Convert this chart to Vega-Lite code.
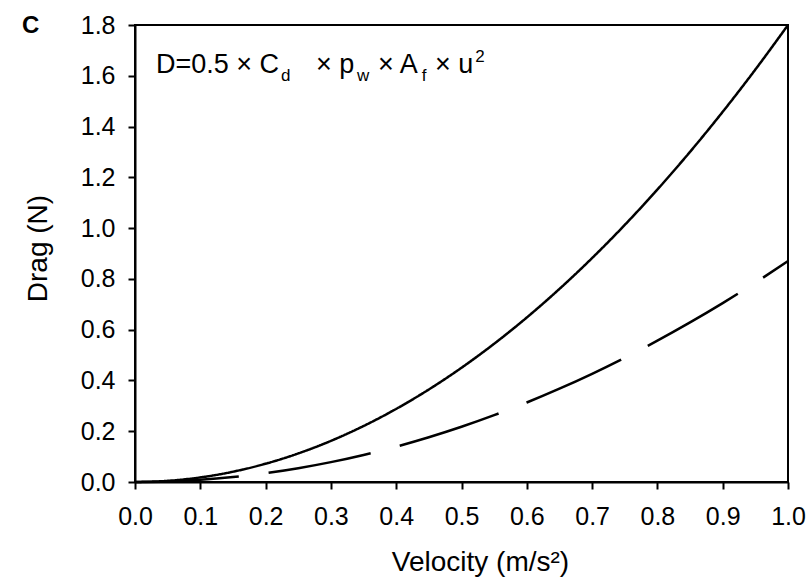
{
  "$schema": "https://vega.github.io/schema/vega-lite/v6.json",
  "width": 653,
  "height": 457,
  "autosize": {"type": "none"},
  "padding": {"left": 135, "top": 25, "right": 24, "bottom": 99},
  "background": "white",
  "config": {
    "font": "Liberation Sans",
    "view": {"stroke": "black", "strokeWidth": 2},
    "axis": {
      "labelFont": "Liberation Sans",
      "titleFont": "Liberation Sans",
      "labelFontSize": 25,
      "titleFontSize": 28,
      "titleFontWeight": "normal",
      "labelColor": "black",
      "titleColor": "black",
      "domainColor": "black",
      "domainWidth": 2,
      "tickColor": "black",
      "tickWidth": 2,
      "tickSize": 7,
      "grid": false,
      "labelFlush": false,
      "labelOverlap": false
    }
  },
  "datasets": {
    "curves": [
      {"u": 0.00, "drag": 0.000, "series": "solid"},
      {"u": 0.05, "drag": 0.0045, "series": "solid"},
      {"u": 0.10, "drag": 0.018, "series": "solid"},
      {"u": 0.15, "drag": 0.0405, "series": "solid"},
      {"u": 0.20, "drag": 0.072, "series": "solid"},
      {"u": 0.25, "drag": 0.1125, "series": "solid"},
      {"u": 0.30, "drag": 0.162, "series": "solid"},
      {"u": 0.35, "drag": 0.2205, "series": "solid"},
      {"u": 0.40, "drag": 0.288, "series": "solid"},
      {"u": 0.45, "drag": 0.3645, "series": "solid"},
      {"u": 0.50, "drag": 0.450, "series": "solid"},
      {"u": 0.55, "drag": 0.5445, "series": "solid"},
      {"u": 0.60, "drag": 0.648, "series": "solid"},
      {"u": 0.65, "drag": 0.7605, "series": "solid"},
      {"u": 0.70, "drag": 0.882, "series": "solid"},
      {"u": 0.75, "drag": 1.0125, "series": "solid"},
      {"u": 0.80, "drag": 1.152, "series": "solid"},
      {"u": 0.85, "drag": 1.3005, "series": "solid"},
      {"u": 0.90, "drag": 1.458, "series": "solid"},
      {"u": 0.95, "drag": 1.6245, "series": "solid"},
      {"u": 1.00, "drag": 1.800, "series": "solid"},
      {"u": 0.00, "drag": 0.000, "series": "dashed"},
      {"u": 0.05, "drag": 0.0022, "series": "dashed"},
      {"u": 0.10, "drag": 0.0087, "series": "dashed"},
      {"u": 0.15, "drag": 0.0196, "series": "dashed"},
      {"u": 0.20, "drag": 0.0348, "series": "dashed"},
      {"u": 0.25, "drag": 0.0544, "series": "dashed"},
      {"u": 0.30, "drag": 0.0783, "series": "dashed"},
      {"u": 0.35, "drag": 0.1066, "series": "dashed"},
      {"u": 0.40, "drag": 0.1392, "series": "dashed"},
      {"u": 0.45, "drag": 0.1762, "series": "dashed"},
      {"u": 0.50, "drag": 0.2175, "series": "dashed"},
      {"u": 0.55, "drag": 0.2632, "series": "dashed"},
      {"u": 0.60, "drag": 0.3132, "series": "dashed"},
      {"u": 0.65, "drag": 0.3676, "series": "dashed"},
      {"u": 0.70, "drag": 0.4263, "series": "dashed"},
      {"u": 0.75, "drag": 0.4894, "series": "dashed"},
      {"u": 0.80, "drag": 0.5568, "series": "dashed"},
      {"u": 0.85, "drag": 0.6286, "series": "dashed"},
      {"u": 0.90, "drag": 0.7047, "series": "dashed"},
      {"u": 0.95, "drag": 0.7852, "series": "dashed"},
      {"u": 1.00, "drag": 0.870, "series": "dashed"}
    ]
  },
  "layer": [
    {
      "data": {"name": "curves"},
      "mark": {"type": "line", "color": "black", "strokeWidth": 2.5, "interpolate": "monotone"},
      "encoding": {
        "x": {
          "field": "u", "type": "quantitative",
          "scale": {"domain": [0, 1], "nice": false},
          "axis": {
            "title": "Velocity (m/s²)",
            "values": [0, 0.1, 0.2, 0.3, 0.4, 0.5, 0.6, 0.7, 0.8, 0.9, 1.0],
            "format": ".1f",
            "labelPadding": 15,
            "titleX": 345,
            "titleY": 88,
            "titleAlign": "center",
            "titleBaseline": "alphabetic"
          }
        },
        "y": {
          "field": "drag", "type": "quantitative",
          "scale": {"domain": [0, 1.8], "nice": false},
          "axis": {
            "title": "Drag (N)",
            "values": [0, 0.2, 0.4, 0.6, 0.8, 1.0, 1.2, 1.4, 1.6, 1.8],
            "format": ".1f",
            "labelPadding": 13,
            "titleX": -89,
            "titleY": 223,
            "titleAngle": -90,
            "titleAlign": "center",
            "titleBaseline": "alphabetic"
          }
        },
        "strokeDash": {
          "field": "series", "type": "nominal",
          "scale": {"domain": ["solid", "dashed"], "range": [[1, 0], [104, 30]]},
          "legend": null
        },
        "detail": {"field": "series"}
      }
    },
    {
      "data": {"values": [{}]},
      "mark": {"type": "text", "text": "D=0.5 × C", "fontSize": 27, "align": "left", "baseline": "alphabetic", "color": "black"},
      "encoding": {"x": {"datum": 0.0322}, "y": {"datum": 1.611}}
    },
    {
      "data": {"values": [{}]},
      "mark": {"type": "text", "text": "d", "fontSize": 17, "align": "left", "baseline": "alphabetic", "color": "black"},
      "encoding": {"x": {"datum": 0.2235}, "y": {"datum": 1.579}}
    },
    {
      "data": {"values": [{}]},
      "mark": {"type": "text", "text": "× p", "fontSize": 27, "align": "left", "baseline": "alphabetic", "color": "black"},
      "encoding": {"x": {"datum": 0.2772}, "y": {"datum": 1.611}}
    },
    {
      "data": {"values": [{}]},
      "mark": {"type": "text", "text": "w", "fontSize": 17, "align": "left", "baseline": "alphabetic", "color": "black"},
      "encoding": {"x": {"datum": 0.3400}, "y": {"datum": 1.579}}
    },
    {
      "data": {"values": [{}]},
      "mark": {"type": "text", "text": "× A", "fontSize": 27, "align": "left", "baseline": "alphabetic", "color": "black"},
      "encoding": {"x": {"datum": 0.3721}, "y": {"datum": 1.611}}
    },
    {
      "data": {"values": [{}]},
      "mark": {"type": "text", "text": "f", "fontSize": 17, "align": "left", "baseline": "alphabetic", "color": "black"},
      "encoding": {"x": {"datum": 0.4390}, "y": {"datum": 1.579}}
    },
    {
      "data": {"values": [{}]},
      "mark": {"type": "text", "text": "× u", "fontSize": 27, "align": "left", "baseline": "alphabetic", "color": "black"},
      "encoding": {"x": {"datum": 0.4594}, "y": {"datum": 1.611}}
    },
    {
      "data": {"values": [{}]},
      "mark": {"type": "text", "text": "2", "fontSize": 17, "align": "left", "baseline": "alphabetic", "color": "black"},
      "encoding": {"x": {"datum": 0.5210}, "y": {"datum": 1.654}}
    },
    {
      "data": {"values": [{}]},
      "mark": {"type": "text", "text": "C", "fontSize": 24, "fontWeight": "bold", "align": "left", "baseline": "alphabetic", "color": "black"},
      "encoding": {"x": {"datum": -0.173}, "y": {"datum": 1.768}}
    }
  ]
}
